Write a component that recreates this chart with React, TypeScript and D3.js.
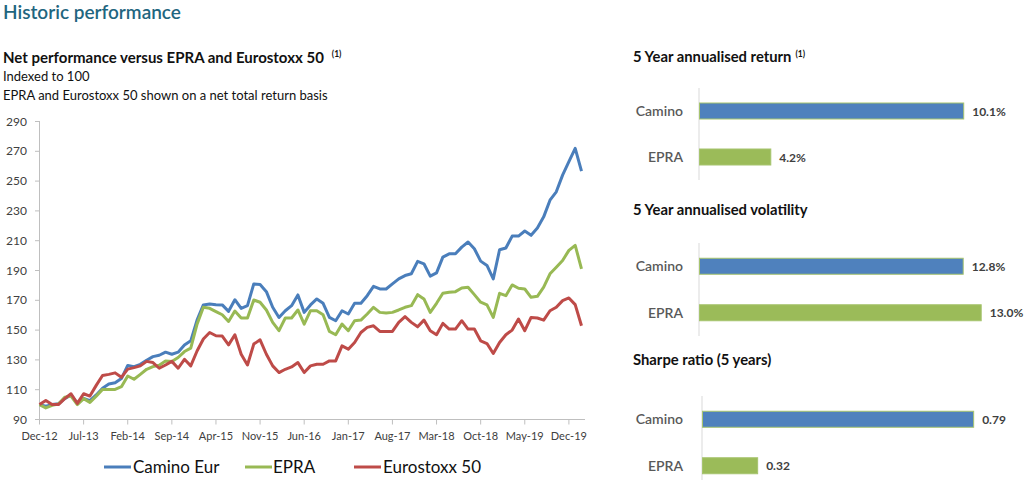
import React from "react";
import * as d3 from "d3";

// ---------- DATA ----------
const tickLabels = ["Dec-12", "Jul-13", "Feb-14", "Sep-14", "Apr-15", "Nov-15", "Jun-16", "Jan-17", "Aug-17", "Mar-18", "Oct-18", "May-19", "Dec-19"];
const yTicks = [90, 110, 130, 150, 170, 190, 210, 230, 250, 270, 290];
const seriesNames = ["Camino Eur", "EPRA", "Eurostoxx 50"];

const camino = [
  100, 99, 100, 100.5, 104, 106.5, 100.8, 104.2, 102.6, 106.5,
  111, 113.8, 114.6, 117.5, 126.3, 125.5, 127, 129.8, 132.2, 133.1,
  135.2, 133.8, 135.2, 140, 142.8, 156.7, 166.9, 167.5, 167, 166.9,
  162.6, 170.4, 164.6, 166.4, 181, 180.6, 175.8, 165.3, 158.5, 163,
  166.4, 173.6, 161.9, 166.9, 170.9, 168, 158.5, 156.3, 163, 160.8,
  168, 168, 173.1, 179.4, 177.6, 177.6, 181, 184.4, 186.6, 187.8,
  196.1, 194.5, 186.2, 188.4, 199, 201.2, 201.2, 205.7, 209.1, 204.6,
  196.3, 193.4, 184.4, 203.9, 205.1, 213.1, 213.1, 216.5, 213.6, 218.5,
  226, 237.2, 242.8, 254, 263, 272, 256.7,
];
const epra = [
  100, 97.8, 99.5, 100.4, 105, 105.7, 100, 104, 101.5, 105.7,
  110.2, 110.2, 110.2, 112, 119.2, 117, 120.3, 123.7, 125.5, 126.4,
  129.3, 128.9, 131.6, 135.6, 137.9, 154, 165.3, 164.6, 162.4, 160.3,
  155.8, 162.8, 158.1, 158.1, 170.2, 168.7, 163.5, 155.2, 149.6, 158.1,
  158.1, 163.5, 154, 163, 163, 160.3, 149.1, 146.9, 154, 149.6,
  156.3, 156.7, 160.8, 165.3, 161.9, 161.5, 161.9, 163.5, 165.3, 166.4,
  173.8, 170.9, 161.9, 168, 174.7, 175.4, 175.8, 178.3, 178.8, 173.8,
  168.7, 166.9, 158.5, 174.7, 173.1, 180.3, 178.1, 177.6, 172, 172.7,
  178.8, 187.8, 192.2, 196.7, 203.5, 206.9, 191.1,
];
const eurostoxx = [
  100, 102.8, 100, 100, 104, 107.3, 100.8, 107.3, 105.7, 112.9,
  119.5, 120.3, 121.3, 118.3, 123.8, 124.8, 126, 129, 128.2, 124.4,
  126.6, 129, 124.4, 130.4, 126, 136, 144, 148.4, 146.2, 146,
  140.1, 146.9, 133.8, 126.6, 140.6, 143.5, 133.8, 126, 121.5, 123.7,
  125.3, 128.2, 121.5, 126, 127.1, 127.1, 129.3, 129.3, 139.4, 137.2,
  141.7, 148.4, 151.8, 152.9, 149.1, 149.1, 149.1, 155.2, 159, 155.2,
  152.2, 156.7, 149.6, 146.9, 154.5, 150.7, 150.7, 156.3, 150.7, 150.7,
  142.8, 141, 134.3, 141.7, 146.9, 150, 157.4, 149.6, 158.5, 158.1,
  156.7, 163, 165.3, 169.8, 171.6, 167.1, 152.9,
];

const barCategories = ["Camino", "EPRA"];
const returnValues = [10.1, 4.2];
const returnLabels = ["10.1%", "4.2%"];
const volValues = [12.8, 13.0];
const volLabels = ["12.8%", "13.0%"];
const sharpeValues = [0.79, 0.32];
const sharpeLabels = ["0.79", "0.32"];

// ---------- STYLE ----------
const FONT = "Lato, 'Open Sans', sans-serif";
const BLUE = "#4a7ebb";
const GREEN = "#98b954";
const RED = "#be4b48";
const BAR_BLUE = "#4f81bd";
const BAR_GREEN = "#9bbb59";
const TEAL = "#1f6680";
const AXIS = "#bfbfbf";
const TXT = "#404040";

function BarPanel(props: {
  title: string;
  sup?: string;
  titleY: number;
  axisX: number;
  axisTop: number;
  axisBottom: number;
  domain: [number, number];
  pxPerUnit: number;
  values: number[];
  labels: string[];
}) {
  const { title, sup, titleY, axisX, axisTop, axisBottom, domain, pxPerUnit, values, labels } = props;
  const x = d3.scaleLinear().domain(domain).range([0, (domain[1] - domain[0]) * pxPerUnit]);
  const y = d3.scalePoint<string>().domain(barCategories).range([axisTop, axisBottom]).padding(0.5);
  const bh = 16;
  return (
    <g>
      <text x={633} y={titleY} fontFamily={FONT} fontWeight={700} fontSize={14.8} fill="#111">
        {title}
        {sup ? (
          <tspan dx={4} dy={-5} fontSize={8.5}>
            {sup}
          </tspan>
        ) : null}
      </text>
      <line x1={axisX} x2={axisX} y1={axisTop} y2={axisBottom} stroke="#d9d9d9" strokeWidth={1} />
      {barCategories.map((c, i) => {
        const cy = y(c) as number;
        const w = x(values[i]);
        return (
          <g key={c}>
            <text x={683} y={cy + 5} textAnchor="end" fontFamily={FONT} fontWeight={600} fontSize={14} fill="#595959">
              {c}
            </text>
            <rect
              x={axisX + 0.5}
              y={cy - bh / 2}
              width={w}
              height={bh}
              fill={i === 0 ? BAR_BLUE : BAR_GREEN}
              stroke="#a6c46e"
              strokeWidth={1}
            />
            <text x={axisX + w + 9} y={cy + 4.5} fontFamily={FONT} fontWeight={700} fontSize={12} fill={TXT}>
              {labels[i]}
            </text>
          </g>
        );
      })}
    </g>
  );
}

export default function App() {
  const x = d3.scaleLinear().domain([0, camino.length - 1]).range([39.5, 581.5]);
  const y = d3.scaleLinear().domain([90, 290]).range([419.5, 121.5]);
  const line = d3
    .line<number>()
    .x((_, i) => x(i))
    .y((d) => y(d));
  const series = [camino, epra, eurostoxx];
  const colors = [BLUE, GREEN, RED];
  const legendPos = [
    { lx: 104, tx: 133 },
    { lx: 245, tx: 273 },
    { lx: 354, tx: 383 },
  ];

  return (
    <svg
      width={1027}
      height={480}
      style={{ position: "absolute", left: 0, top: 0, background: "#fff" }}
    >
      {/* Header */}
      <text x={3} y={19} fontFamily={FONT} fontWeight={600} fontSize={19} fill={TEAL}>
        Historic performance
      </text>
      <text x={3} y={63} fontFamily={FONT} fontWeight={700} fontSize={15} fill="#111">
        Net performance versus EPRA and Eurostoxx 50
        <tspan dx={8} dy={-6} fontSize={8.5}>
          (1)
        </tspan>
      </text>
      <text x={3} y={81} fontFamily={FONT} fontSize={13} fill="#111">
        Indexed to 100
      </text>
      <text x={3} y={100} fontFamily={FONT} fontSize={13} fill="#111">
        EPRA and Eurostoxx 50 shown on a net total return basis
      </text>

      {/* Y axis */}
      <line x1={39.5} x2={39.5} y1={121} y2={420} stroke={AXIS} />
      {yTicks.map((t) => (
        <g key={t}>
          <line x1={35} x2={39.5} y1={y(t)} y2={y(t)} stroke={AXIS} />
          <text x={27} y={y(t) + 4} textAnchor="end" fontFamily={FONT} fontSize={12} fill={TXT}>
            {t}
          </text>
        </g>
      ))}

      {/* X axis */}
      <line x1={39.5} x2={585} y1={419.5} y2={419.5} stroke={AXIS} />
      {tickLabels.map((lab, k) => {
        const px = x(k * 7);
        return (
          <g key={lab}>
            <line x1={px} x2={px} y1={419.5} y2={424.5} stroke={AXIS} />
            <text x={px} y={440} textAnchor="middle" fontFamily={FONT} fontSize={11} fill={TXT}>
              {lab}
            </text>
          </g>
        );
      })}

      {/* Lines */}
      {series.map((s, i) => (
        <path
          key={seriesNames[i]}
          d={line(s) || ""}
          fill="none"
          stroke={colors[i]}
          strokeWidth={3}
          strokeLinejoin="round"
        />
      ))}

      {/* Legend */}
      {seriesNames.map((n, i) => (
        <g key={n}>
          <line
            x1={legendPos[i].lx}
            x2={legendPos[i].lx + 27}
            y1={467}
            y2={467}
            stroke={colors[i]}
            strokeWidth={3}
          />
          <text x={legendPos[i].tx} y={473} fontFamily={FONT} fontSize={17} fill="#111">
            {n}
          </text>
        </g>
      ))}

      {/* Right panels */}
      <BarPanel
        title="5 Year annualised return"
        sup="(1)"
        titleY={62}
        axisX={699}
        axisTop={88}
        axisBottom={180}
        domain={[2.02, 12]}
        pxPerUnit={32.7}
        values={returnValues}
        labels={returnLabels}
      />
      <BarPanel
        title="5 Year annualised volatility"
        titleY={215}
        axisX={699}
        axisTop={243}
        axisBottom={336}
        domain={[9.87, 13.5]}
        pxPerUnit={90}
        values={volValues}
        labels={volLabels}
      />
      <BarPanel
        title="Sharpe ratio (5 years)"
        titleY={365}
        axisX={702}
        axisTop={396}
        axisBottom={489}
        domain={[0.2, 1]}
        pxPerUnit={459.6}
        values={sharpeValues}
        labels={sharpeLabels}
      />
    </svg>
  );
}
